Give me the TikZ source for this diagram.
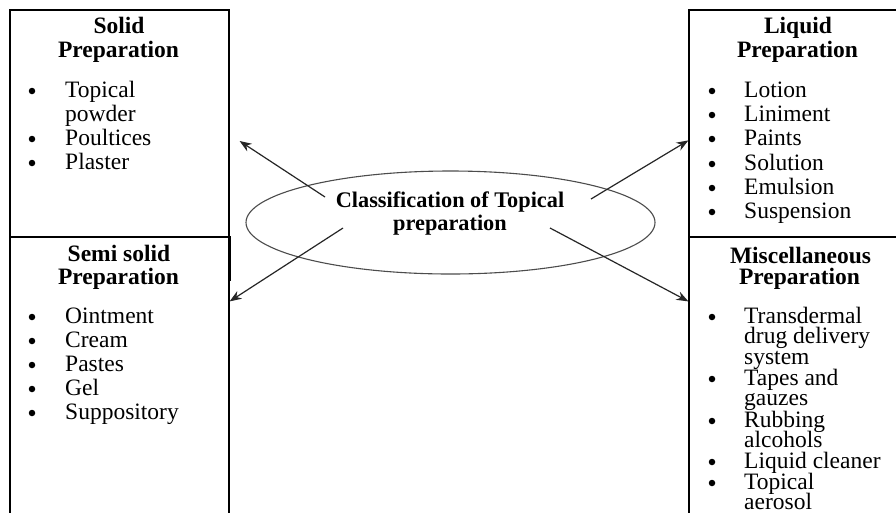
\documentclass[tikz,border=0pt]{standalone}
\usepackage{fontspec}
\setmainfont{Liberation Serif}
\usetikzlibrary{arrows.meta,shapes.geometric,calc}
\tikzset{
  box/.style={draw=black, line width=1.2pt, rectangle, inner sep=0pt},
  oval/.style={draw=black!70, line width=1.1pt, ellipse, inner sep=0pt, minimum width=409pt, minimum height=103pt},
  ttl/.style={anchor=base, inner sep=0pt, font=\bfseries\fontsize{23.5}{24}\selectfont},
  itxt/.style={anchor=base west, inner sep=0pt, font=\fontsize{23.5}{24}\selectfont},
  bul/.style={circle, fill=black, inner sep=0pt, minimum size=6.5pt},
  conn/.style={draw=black!85, line width=1.2pt, -{Stealth[length=12pt,width=9pt]}}
}
\begin{document}
\begin{tikzpicture}[x=1pt,y=-1pt]
\clip (0,0) rectangle (896,512);
\fill[white] (0,0) rectangle (896,512);
% boxes
\node[box, minimum width=219pt, minimum height=227pt] (solid) at (119.5,123.5) {};
\node[box, minimum width=219pt, minimum height=293pt] (semi) at (119.5,383.5) {};
\node[box, minimum width=221pt, minimum height=227pt] (liquid) at (799.5,123.5) {};
\node[box, minimum width=221pt, minimum height=293pt] (misc) at (799.5,383.5) {};
\draw[line width=2.6pt] (semi.north east) -- ++(0,45);
% titles
\node[ttl] (solidt1) at (119,33) {Solid};
\node[ttl] (solidt2) at (118.5,57) {Preparation};
\node[ttl] (semit1) at (119,261) {Semi solid};
\node[ttl] (semit2) at (118.5,284) {Preparation};
\node[ttl] (liquidt1) at (798,33) {Liquid};
\node[ttl] (liquidt2) at (797.5,57) {Preparation};
\node[ttl] (misct1) at (800.5,263) {Miscellaneous};
\node[ttl] (misct2) at (799.5,284) {Preparation};
% lists: y / bullet / text
\foreach \y/\b/\t [count=\i] in {97/1/Topical,121/0/powder,145/1/Poultices,169/1/Plaster}{
  \node[itxt] (sl\i) at (65,\y) {\t};
  \ifnum\b=1 \node[bul] (sb\i) at (32,\y-6) {};\fi
}
\foreach \y/\b/\t [count=\i] in {323/1/Ointment,347/1/Cream,371/1/Pastes,395/1/Gel,419/1/Suppository}{
  \node[itxt] (ml\i) at (65,\y) {\t};
  \ifnum\b=1 \node[bul] (mb\i) at (32,\y-6) {};\fi
}
\foreach \y/\b/\t [count=\i] in {97/1/Lotion,121/1/Liniment,145/1/Paints,170/1/Solution,194/1/Emulsion,218/1/Suspension}{
  \node[itxt] (ll\i) at (744,\y) {\t};
  \ifnum\b=1 \node[bul] (lb\i) at (712,\y-6) {};\fi
}
\foreach \y/\b/\t [count=\i] in {323/1/Transdermal,343/0/drug delivery,364/0/system,385/1/Tapes and,405/0/gauzes,427/1/Rubbing,447/0/alcohols,468/1/Liquid cleaner,489/1/Topical,509/0/aerosol}{
  \node[itxt] (xl\i) at (744,\y) {\t};
  \ifnum\b=1 \node[bul] (xb\i) at (712,\y-6) {};\fi
}
% centre
\node[oval] (cls) at (450.5,222.5) {};
\node[ttl, font=\bfseries\fontsize{22.3}{23}\selectfont] (clst1) at (450,207) {Classification of Topical};
\node[ttl, font=\bfseries\fontsize{22.3}{23}\selectfont] (clst2) at (450,230) {preparation};
% arrow ends
\coordinate (s1) at (325,197);
\coordinate (s2) at (343,228);
\coordinate (s3) at (591,199);
\coordinate (s4) at (550,228);
\coordinate (t1) at ($(solid.east)+(10,17.5)$);
\coordinate (t2) at ($(semi.north east)+(0,65)$);
\coordinate (t3) at ($(liquid.north west)+(0,131)$);
\coordinate (t4) at ($(misc.north west)+(0,65)$);
\draw[conn] (s1) -- (t1);
\draw[conn] (s2) -- (t2);
\draw[conn] (s3) -- (t3);
\draw[conn] (s4) -- (t4);
\end{tikzpicture}
\end{document}
